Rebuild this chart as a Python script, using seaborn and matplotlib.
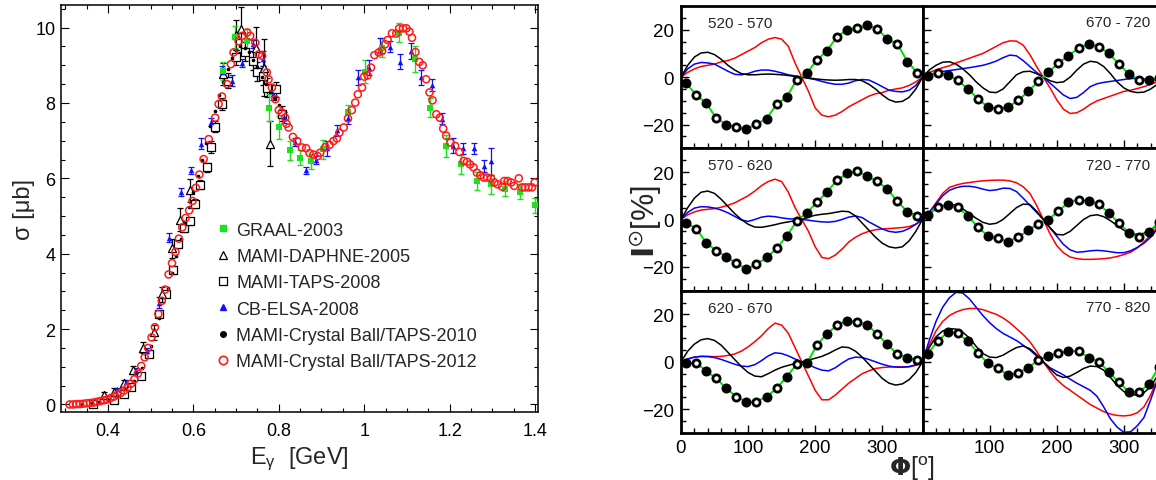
import numpy as np
import pandas as pd
import matplotlib
matplotlib.use("Agg")
import matplotlib.pyplot as plt
from matplotlib.lines import Line2D
from matplotlib.ticker import MultipleLocator, FixedLocator
import seaborn as sns

sns.set_theme(style="ticks")
plt.rcParams["font.family"] = ["Liberation Sans", "DejaVu Sans"]
plt.rcParams["mathtext.default"] = "regular"

# ---------------- left panel data: total cross section ----------------
E_2012 = [0.310, 0.318, 0.326, 0.334, 0.342, 0.350, 0.358, 0.366, 0.374, 0.382, 0.390, 0.398,
          0.406, 0.414, 0.422, 0.430, 0.438, 0.446, 0.454, 0.462, 0.470, 0.478, 0.486, 0.494,
          0.502, 0.510, 0.518, 0.526, 0.534, 0.542, 0.550, 0.558, 0.566, 0.574, 0.582, 0.590,
          0.598, 0.606, 0.614, 0.624, 0.636, 0.651, 0.659, 0.667, 0.679, 0.688, 0.694, 0.706,
          0.714, 0.726, 0.733, 0.745, 0.753, 0.761, 0.772, 0.776, 0.784, 0.792, 0.800, 0.807,
          0.815, 0.818, 0.823, 0.833, 0.843, 0.854, 0.864, 0.872, 0.881, 0.891, 0.897, 0.909,
          0.919, 0.928, 0.936, 0.942, 0.952, 0.962, 0.971, 0.979, 0.985, 0.995, 1.000, 1.008,
          1.016, 1.024, 1.034, 1.042, 1.049, 1.055, 1.065, 1.075, 1.082, 1.091, 1.099, 1.106,
          1.112, 1.120, 1.129, 1.137, 1.145, 1.153, 1.160, 1.169, 1.177, 1.185, 1.192, 1.202,
          1.213, 1.223, 1.233, 1.241, 1.248, 1.256, 1.264, 1.272, 1.280, 1.288, 1.297, 1.305,
          1.313, 1.323, 1.328, 1.336, 1.344, 1.351, 1.362, 1.370, 1.377, 1.385, 1.393, 1.399]
S_2012 = [0.00, 0.00, 0.01, 0.01, 0.02, 0.03, 0.04, 0.05, 0.07, 0.09, 0.11, 0.13,
          0.17, 0.21, 0.26, 0.31, 0.37, 0.45, 0.55, 0.67, 0.82, 1.02, 1.25, 1.50,
          1.78, 2.05, 2.40, 2.75, 3.05, 3.45, 3.75, 4.05, 4.40, 4.70, 4.95, 5.15,
          5.40, 5.75, 6.10, 6.51, 7.04, 7.61, 7.97, 8.17, 8.50, 9.03, 9.34, 9.64,
          9.78, 9.87, 9.78, 9.60, 9.29, 9.25, 8.81, 8.63, 8.41, 8.10, 7.81, 7.75,
          7.61, 7.45, 7.35, 7.10, 6.99, 6.82, 6.80, 6.67, 6.63, 6.59, 6.68, 6.83,
          6.89, 6.99, 7.06, 7.21, 7.35, 7.59, 7.81, 8.01, 8.23, 8.41, 8.70, 8.73,
          8.94, 9.27, 9.34, 9.38, 9.56, 9.67, 9.85, 9.84, 9.98, 9.98, 9.98, 9.89,
          9.73, 9.35, 9.09, 9.00, 8.63, 8.28, 8.07, 7.70, 7.61, 7.32, 7.13, 6.95,
          6.86, 6.70, 6.46, 6.44, 6.37, 6.29, 6.15, 6.08, 6.02, 6.02, 6.00, 5.89,
          5.84, 5.78, 5.93, 5.93, 5.89, 5.80, 6.00, 5.76, 5.76, 5.76, 5.76, 5.89]

E_2010 = [0.34, 0.36, 0.38, 0.40, 0.42, 0.44, 0.46, 0.48, 0.50, 0.52, 0.54, 0.55, 0.56,
          0.57, 0.58, 0.59, 0.60, 0.61, 0.62, 0.63, 0.64, 0.65, 0.66, 0.67, 0.68, 0.69,
          0.70, 0.71, 0.72, 0.73, 0.74, 0.75, 0.76, 0.77, 0.78, 0.79, 0.80]
S_2010 = [0.01, 0.03, 0.07, 0.13, 0.24, 0.40, 0.62, 0.98, 1.55, 2.30, 3.10, 3.50, 3.95,
          4.40, 4.85, 5.25, 5.65, 6.05, 6.50, 6.95, 7.40, 7.80, 8.20, 8.55, 8.90, 9.20,
          9.40, 9.50, 9.45, 9.35, 9.15, 8.95, 8.70, 8.50, 8.30, 8.10, 7.95]

E_graal = [0.669, 0.698, 0.726, 0.776, 0.801, 0.827, 0.850, 0.876, 0.903, 0.963, 1.001,
           1.042, 1.081, 1.118, 1.153, 1.192, 1.227, 1.263, 1.297, 1.330, 1.364, 1.400]
S_graal = [8.85, 9.75, 9.65, 7.88, 7.35, 6.75, 6.55, 6.45, 6.77, 7.75, 8.83,
           9.47, 9.87, 9.16, 7.88, 6.86, 6.37, 5.93, 5.84, 5.73, 5.64, 5.29]
D_graal = [0.25, 0.30, 0.30, 0.35, 0.30, 0.25, 0.20, 0.20, 0.25, 0.20, 0.30,
           0.25, 0.25, 0.35, 0.25, 0.30, 0.25, 0.25, 0.25, 0.20, 0.20, 0.20]

E_daphne = [0.390, 0.413, 0.437, 0.459, 0.483, 0.507, 0.526, 0.550, 0.569, 0.593,
            0.669, 0.700, 0.712, 0.747, 0.765, 0.779]
S_daphne = [0.24, 0.34, 0.56, 0.92, 1.51, 1.91, 2.93, 4.14, 4.90, 5.68,
            8.77, 9.80, 9.96, 9.47, 8.94, 6.92]
D_daphne = [0.10, 0.10, 0.10, 0.10, 0.15, 0.20, 0.20, 0.25, 0.30, 0.30,
            0.30, 0.40, 0.60, 0.55, 0.75, 0.60]

E_taps = [0.364, 0.413, 0.438, 0.454, 0.477, 0.495, 0.520, 0.537, 0.553, 0.565, 0.578,
          0.591, 0.604, 0.616, 0.631, 0.642, 0.651, 0.667, 0.682, 0.699, 0.722, 0.740,
          0.750, 0.763, 0.772, 0.793, 0.807]
S_taps = [0.02, 0.13, 0.28, 0.47, 0.75, 1.35, 2.40, 2.93, 3.57, 4.25, 4.67,
          4.86, 5.33, 5.83, 6.30, 6.83, 7.37, 7.97, 8.59, 9.21, 9.36, 9.12,
          8.83, 8.72, 8.41, 8.37, 7.71]
D_taps = [0.05, 0.05, 0.05, 0.05, 0.06, 0.08, 0.08, 0.08, 0.10, 0.10, 0.10,
          0.10, 0.12, 0.12, 0.12, 0.15, 0.15, 0.15, 0.20, 0.20, 0.25, 0.25,
          0.25, 0.25, 0.25, 0.20, 0.20]

E_elsa = [0.421, 0.443, 0.466, 0.491, 0.519, 0.544, 0.570, 0.595, 0.618, 0.642, 0.667,
          0.690, 0.714, 0.739, 0.763, 0.786, 0.812, 0.837, 0.863, 0.887, 0.913, 0.937,
          0.962, 0.986, 1.011, 1.036, 1.061, 1.085, 1.110, 1.134, 1.158, 1.183, 1.207,
          1.232, 1.257, 1.281, 1.298]
S_elsa = [0.40, 0.60, 0.88, 1.41, 2.70, 4.42, 5.64, 6.21, 6.92, 7.49, 8.83,
          8.59, 9.06, 9.56, 9.18, 8.24, 7.62, 6.96, 6.21, 6.48, 6.80, 7.27,
          7.59, 8.68, 8.94, 9.52, 9.49, 9.09, 9.38, 8.68, 8.48, 7.58, 6.87,
          6.80, 6.80, 6.33, 6.45]
D_elsa = [0.05, 0.05, 0.08, 0.10, 0.15, 0.12, 0.10, 0.10, 0.15, 0.10, 0.15,
          0.15, 0.10, 0.10, 0.20, 0.15, 0.15, 0.10, 0.10, 0.10, 0.20, 0.15,
          0.15, 0.20, 0.20, 0.20, 0.15, 0.20, 0.20, 0.20, 0.15, 0.15, 0.20,
          0.15, 0.15, 0.15, 0.35]

legend_labels = ["GRAAL-2003", "MAMI-DAPHNE-2005", "MAMI-TAPS-2008", "CB-ELSA-2008",
                 "MAMI-Crystal Ball/TAPS-2010", "MAMI-Crystal Ball/TAPS-2012"]

# ---------------- right panel data: I^odot asymmetry ----------------
phi_curve = list(range(0, 361, 10))
phi_data = [7.5 + 15 * k for k in range(24)]
panel_titles = ["520 - 570", "670 - 720", "570 - 620", "720 - 770", "620 - 670", "770 - 820"]

red_520 = [0, 2, 3.5, 4.5, 5, 5.5, 6.5, 7, 8, 9.5, 11, 12.5, 14.5, 16, 16.7, 16, 13, 6, 0,
           -6, -13, -16, -16.7, -16, -14.5, -12.5, -11, -9.5, -8, -7, -6.5, -5.5, -5, -4.5, -3.5, -2, 0]
blue_520 = [0, 3.5, 5.5, 6.2, 6, 5.5, 4, 2.5, 1.2, 1, 1.5, 2.5, 3, 3, 2.5, 1.8, 1, 0.5, 0,
            -0.5, -1, -1.8, -2.5, -3, -3, -2.5, -1.5, -1, -1.2, -2.5, -4, -5.5, -6, -6.2, -5.5, -3.5, 0]
black_520 = [0, 5, 8.5, 10.2, 10.5, 9.5, 7.5, 5, 3, 1.5, 1, 1, 1.2, 1.3, 1.2, 1, 0.7, 0.3, 0,
             -0.3, -0.7, -1, -1.2, -1.3, -1.2, -1, -1, -1.5, -3, -5, -7.5, -9.5, -10.5, -10.2, -8.5, -5, 0]
data_520 = [-2.5, -7.4, -11, -17.2, -20, -21.2, -21.9, -19.8, -17.5, -11.4, -8.4, -1.1,
            1.7, 7.2, 11.1, 17.1, 19.9, 20.6, 21.8, 20.4, 16.1, 14, 6.6, 1.7]

red_670 = [0, 2, 3, 4, 4.8, 6, 7, 8, 9, 10, 11.5, 13, 14.5, 15.3, 15.2, 13.5, 9.5, 4.5, 0,
           -4.5, -9.5, -13.5, -15.3, -15, -13.5, -11.5, -10, -9, -8, -7, -6, -5.5, -4.8, -4, -3, -2, 0]
blue_670 = [0, 1, 1.8, 2.4, 2.8, 3.2, 3.6, 4, 4.5, 5, 5.8, 6.8, 8.2, 9.3, 9, 7, 4.5, 2, 0,
            -2.5, -5, -7.5, -9, -8.5, -6.5, -4, -2.8, -2.2, -1.8, -1.4, -1, -0.6, -0.5, -0.8, -1.2, -1, 0]
black_670 = [0, 3, 5, 6.3, 6.5, 5.5, 3.5, 1, -2, -4.5, -6.3, -6.5, -5, -2, 1, 2.3, 2.5, 1.5, 0,
             -1.5, -2.3, -2, 0, 3, 5.5, 6.7, 6.3, 4.5, 1.5, -2, -4.5, -6, -6.5, -6.3, -5, -3, 0]
data_670 = [0.7, 1.8, 1, -1.4, -4.9, -9.1, -12.6, -13.3, -12.6, -9.8, -6, -1.8,
            2.1, 5.9, 9.1, 12.2, 14, 12.9, 10.1, 5.6, 1.4, -1.1, -1.4, -0.4]

red_570 = [0, 2, 3.2, 4, 4.3, 4.6, 5.2, 6, 7, 8.5, 10, 12, 14.3, 16, 17, 16, 11.5, 5, 0,
           -5, -11.5, -16, -16.5, -15, -12.5, -9.5, -7.5, -6, -5, -4.3, -4, -3.8, -3.6, -3.4, -3, -2, 0]
blue_570 = [0, 3, 4.8, 5.4, 5.3, 4.8, 4, 2.8, 1.3, -0.2, -0.8, 0, 1, 1.4, 1.2, 0.7, 0.3, 0.2, 0,
            -0.3, -0.7, -1, -1.1, -0.8, 0, 1, 1.5, 0.8, -1, -2.5, -4, -5, -5.4, -5, -3.8, -2, 0]
black_570 = [0, 5, 9, 11.5, 12, 11, 8.5, 5.5, 2.5, 0, -2, -3.2, -3.3, -2.8, -2.2, -1.5, -1, -0.5, 0,
             1, 1.8, 2.2, 2.5, 3, 3.5, 3.3, 1.5, -1.5, -4.5, -7.5, -10, -11.5, -12, -11.5, -9, -5, 0]
data_570 = [-1.3, -3.8, -9.7, -13.2, -15.7, -18.5, -20.9, -18.9, -16, -12.2, -7, -0.7,
            2.9, 7.2, 11.6, 16.6, 19.4, 20.4, 18.2, 16.1, 12.8, 7.7, 3.2, 1.5]

red_720 = [0, 3, 7, 11, 13.5, 14.5, 15.2, 15.6, 16, 16.3, 16.5, 16.6, 16.6, 16.3, 15.5, 13.8, 11, 6, 0,
           -6, -11, -14, -15.8, -16.5, -16.8, -16.8, -16.7, -16.5, -16.2, -15.6, -14.8, -13.8, -12, -9.5, -6.5, -3.3, 0]
blue_720 = [0, 3, 6.5, 10, 12.3, 13.4, 14, 14, 13.6, 12.8, 12.2, 12.5, 13.2, 13.1, 11.8, 9, 6, 3, 0,
            -3.5, -7, -10.5, -12.8, -13.8, -13.6, -13.2, -13, -13.2, -13.6, -14, -14, -13.2, -11.8, -10, -7.5, -4, 0]
black_720 = [0, 2.5, 4.5, 5.8, 6.3, 6, 4.5, 2.5, 0.5, -1.2, -2, -1.6, 0, 2.5, 5, 6.5, 6.3, 3.5, 0,
             -3.5, -6.3, -6.5, -5, -2.5, 0, 1.6, 2, 1.2, -0.5, -2.5, -4.5, -6, -6.3, -5.8, -4.5, -2.5, 0]
data_720 = [2.1, 5.2, 6.3, 5.2, 1.4, -3.1, -7, -8, -9.4, -7.4, -4.6, -1.8,
            0, 3.5, 7.3, 8.4, 7.7, 6.6, 2.8, -1.4, -5.6, -7.3, -5.3, -1]

red_620 = [0, 1.2, 2, 2.3, 2.3, 2.2, 2.3, 2.7, 3.3, 4.5, 6.3, 8.5, 11, 14, 16.3, 15.5, 12, 6, 0,
           -6, -12, -16, -16, -14, -11.5, -9, -7, -5, -3.8, -2.8, -2.4, -2.2, -2.1, -2.1, -2.1, -1.5, 0]
blue_620 = [0, 1.2, 2, 2.3, 2.2, 1.8, 1, 0, -1, -1.8, -2, -1.2, 0.5, 2.5, 3.8, 3.5, 2.5, 1.2, 0,
            -1.2, -2.5, -3.5, -3.8, -2.5, -0.5, 1.2, 2, 1.8, 1, 0, -1, -1.8, -2.2, -2.3, -2, -1.2, 0]
black_620 = [0, 4.5, 7.5, 9.3, 9.8, 9, 7, 4, 1, -2, -4.5, -6, -6.3, -5, -3.5, -2.3, -1.5, -0.7, 0,
             0.7, 1.5, 2.3, 3.5, 5, 6.3, 6, 4.5, 2, -1, -4, -7, -9, -9.8, -9.3, -7.5, -4.5, 0]
data_620 = [-0.7, -0.3, -3.9, -7, -11.2, -14.7, -16.8, -16.8, -14.7, -11.2, -6.3, -1,
            -0.7, 7, 11.9, 15.4, 17.3, 16.8, 15.7, 11.6, 7.4, 3.2, 1.8, 0.7]

red_770 = [0, 7, 13, 17, 19.5, 21, 22, 22.5, 22.5, 22, 21, 20, 18.5, 16.5, 14, 11.5, 8.5, 4.5, 0,
           -4, -7.5, -10, -12, -14, -16, -18, -19.5, -21, -22, -22.6, -22.8, -22.5, -21.5, -19, -14, -7.5, 0]
blue_770 = [0, 9, 17, 23, 27, 29.3, 29, 26.5, 23, 19.5, 16.5, 14, 12, 10.5, 9, 7, 5, 2.5, 0,
            -2.5, -4, -5.5, -7.3, -9, -10.5, -12, -14.5, -19, -24, -27.5, -29.7, -29.5, -27, -23.5, -16, -8, 0]
black_770 = [0, 6, 10.5, 13, 14, 13.8, 12.5, 10, 6.5, 3.5, 2, 1.8, 2.8, 4.5, 6, 6.7, 5.5, 3, 0,
             -3, -5.5, -6.6, -6, -4.5, -2.8, -1.8, -2, -3.5, -6.5, -10, -12.5, -13.8, -14, -13, -10.5, -6, 0]
data_770 = [3.2, 8.8, 12.4, 12.1, 8.6, 3.9, -0.7, -2.8, -5.5, -4.8, -2.4, 0.7,
            2.5, 3.6, 4.6, 4.6, 1.8, 0, -4.2, -8.7, -12.6, -12.6, -9.4, -2]

panels = [
    (red_520, blue_520, black_520, data_520),
    (red_670, blue_670, black_670, data_670),
    (red_570, blue_570, black_570, data_570),
    (red_720, blue_720, black_720, data_720),
    (red_620, blue_620, black_620, data_620),
    (red_770, blue_770, black_770, data_770),
]

# ---------------- figure ----------------
W, H = 1156, 481
fig = plt.figure(figsize=(W / 100, H / 100), dpi=100)

GREEN = "#1ee01e"
BLUE = "#1010ff"
RED = "#ff1a1a"

# ---- left panel ----
axL = fig.add_axes([61 / W, 1 - 413 / H, (538 - 61) / W, (413 - 6) / H])

axL.errorbar(E_daphne, S_daphne, yerr=D_daphne, fmt="none", ecolor="black",
             elinewidth=0.9, capsize=2.5, capthick=0.9, zorder=2)
axL.errorbar(E_taps, S_taps, yerr=D_taps, fmt="none", ecolor="black",
             elinewidth=0.9, capsize=2, capthick=0.9, zorder=2)
axL.errorbar(E_graal, S_graal, yerr=D_graal, fmt="none", ecolor=GREEN,
             elinewidth=1.0, capsize=2.5, capthick=1.0, zorder=2)
axL.errorbar(E_elsa, S_elsa, yerr=D_elsa, fmt="none", ecolor=BLUE,
             elinewidth=0.9, capsize=2.5, capthick=0.9, zorder=2)

sns.scatterplot(x=E_taps, y=S_taps, ax=axL, marker="s", s=30, facecolors="white",
                edgecolors="black", linewidth=0.9, zorder=3)
sns.scatterplot(x=E_daphne, y=S_daphne, ax=axL, marker="^", s=34, facecolors="white",
                edgecolors="black", linewidth=0.9, zorder=3)
sns.scatterplot(x=E_2010, y=S_2010, ax=axL, marker="o", s=7, color="black",
                linewidth=0, zorder=3)
sns.scatterplot(x=E_elsa, y=S_elsa, ax=axL, marker="^", s=16, color=BLUE,
                linewidth=0, zorder=4)
sns.scatterplot(x=E_graal, y=S_graal, ax=axL, marker="s", s=24, color=GREEN,
                linewidth=0, zorder=4)
sns.scatterplot(x=E_2012, y=S_2012, ax=axL, marker="o", s=26, facecolors="none",
                edgecolors=RED, linewidth=1.1, zorder=5)

axL.set_xlim(0.29, 1.407)
axL.set_ylim(-0.2, 10.6)
axL.xaxis.set_major_locator(FixedLocator([0.4, 0.6, 0.8, 1.0, 1.2, 1.4]))
axL.set_xticklabels(["0.4", "0.6", "0.8", "1", "1.2", "1.4"])
axL.xaxis.set_minor_locator(MultipleLocator(0.05))
axL.yaxis.set_major_locator(MultipleLocator(2))
axL.yaxis.set_minor_locator(MultipleLocator(0.5))
axL.tick_params(which="both", direction="in", top=True, right=True, width=0.8,
                labelsize=13, colors="black")
axL.tick_params(which="major", length=6)
axL.tick_params(which="minor", length=3)
axL.tick_params(axis="x", pad=7)
axL.tick_params(axis="y", pad=4)
for sp in axL.spines.values():
    sp.set_linewidth(1.1)
    sp.set_color("black")
axL.set_xlabel(r"E$_{\gamma}$  [GeV]", fontsize=17, labelpad=4)
axL.set_ylabel(r"σ [μb]", fontsize=17)
axL.yaxis.set_label_coords(-(61 - 35) / 477, 0.5)

handles = [
    Line2D([], [], ls="none", marker="s", ms=5, mfc=GREEN, mec=GREEN),
    Line2D([], [], ls="none", marker="^", ms=5.5, mfc="white", mec="black", mew=0.9),
    Line2D([], [], ls="none", marker="s", ms=5.5, mfc="white", mec="black", mew=0.9),
    Line2D([], [], ls="none", marker="^", ms=4.5, mfc=BLUE, mec=BLUE),
    Line2D([], [], ls="none", marker="o", ms=4, mfc="black", mec="black"),
    Line2D([], [], ls="none", marker="o", ms=6, mfc="none", mec=RED, mew=1.2),
]
axL.legend(handles=handles, labels=legend_labels, loc="center left",
           bbox_to_anchor=(0.324, 0.285), frameon=False, fontsize=13,
           handlelength=0.8, handletextpad=0.35, labelspacing=0.52,
           borderpad=0, borderaxespad=0)

# ---- right panels ----
gs = fig.add_gridspec(3, 2, left=681 / W, right=1.0, top=1 - 7 / H, bottom=1 - 434 / H,
                      wspace=0, hspace=0, width_ratios=[360, 348])

for idx, (red, blue, black, data) in enumerate(panels):
    r, c = divmod(idx, 2)
    ax = fig.add_subplot(gs[r, c])
    curves = pd.DataFrame({
        "phi": phi_curve * 3,
        "I": red + blue + black,
        "model": ["red"] * len(phi_curve) + ["blue"] * len(phi_curve) + ["black"] * len(phi_curve),
    })
    sns.lineplot(data=curves, x="phi", y="I", hue="model",
                 palette={"red": "#ff0000", "blue": "#0000ff", "black": "black"},
                 estimator=None, sort=False, legend=False, linewidth=1.1, ax=ax, zorder=2)
    sns.lineplot(x=phi_data, y=data, color="#00e000", linewidth=1.4, estimator=None,
                 sort=False, ax=ax, zorder=3)
    sns.scatterplot(x=phi_data, y=data, color="black", s=52, linewidth=0, ax=ax, zorder=4)
    sns.scatterplot(x=phi_data[1::2], y=data[1::2], color="white", s=10, linewidth=0,
                    ax=ax, zorder=5)

    ax.set_ylim(-30, 30)
    if c == 0:
        ax.set_xlim(0, 360)
        ax.xaxis.set_major_locator(FixedLocator([0, 100, 200, 300]))
        ax.text(0.11, 0.88, panel_titles[idx], transform=ax.transAxes, fontsize=11,
                ha="left", va="center")
    else:
        ax.set_xlim(0, 348)
        ax.xaxis.set_major_locator(FixedLocator([100, 200, 300]))
        ax.text(0.975, 0.885, panel_titles[idx], transform=ax.transAxes, fontsize=11,
                ha="right", va="center")
        ax.spines["right"].set_visible(False)
    ax.xaxis.set_minor_locator(MultipleLocator(20))
    ax.yaxis.set_major_locator(FixedLocator([-20, 0, 20]))
    ax.yaxis.set_minor_locator(MultipleLocator(5))
    ax.tick_params(which="both", direction="in", top=False, right=False, width=1.0,
                   labelsize=13.5, colors="black")
    ax.tick_params(which="major", length=6)
    ax.tick_params(which="minor", length=3.5)
    ax.tick_params(axis="y", pad=5)
    ax.tick_params(axis="x", pad=4)
    if c == 1:
        ax.tick_params(labelleft=False)
    if r < 2:
        ax.tick_params(labelbottom=False)
    ax.set_xlabel("")
    ax.set_ylabel("")
    for sp in ax.spines.values():
        sp.set_linewidth(2.0)
        sp.set_color("black")

fig.text(646 / W, 1 - 222 / H, r"$\mathbf{I}^{\odot}$[%]", rotation=90, fontsize=22,
         ha="center", va="center")
fig.text(912 / W, 1 - 469 / H, r"$\mathbf{\Phi}$[$^{o}$]", fontsize=18,
         ha="center", va="center")

fig.savefig("out.png", dpi=100)
